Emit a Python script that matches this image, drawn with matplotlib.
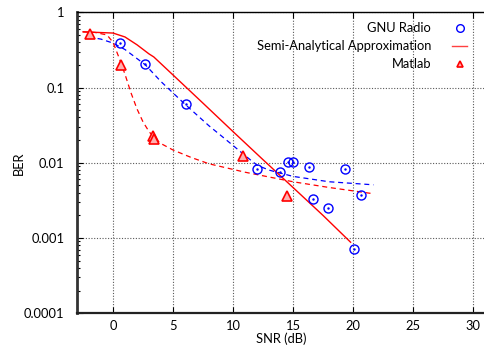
import matplotlib.pyplot as plt
import numpy as np

plt.rcParams["font.family"] = ["Lato", "DejaVu Sans"]
plt.rcParams["font.size"] = 9.3

# measured points
gnu_snr = [0.58, 2.67, 6.08, 11.97, 13.94, 14.56, 15.03, 16.36, 16.69, 17.94, 19.33, 20.08, 20.69]
gnu_ber = [0.385, 0.204, 0.060, 0.0082, 0.0075, 0.0101, 0.0102, 0.0087, 0.0033, 0.0025, 0.0083, 0.00072, 0.0037]

matlab_snr = [-1.9, 0.7, 3.3, 3.45, 10.85, 14.5]
matlab_ber = [0.51, 0.20, 0.023, 0.021, 0.0125, 0.0036]

# semi-analytical approximation curve
semi_snr = [-2.5, 0.0, 1.0, 2.0, 3.0, 3.4, 5.0, 7.5, 10.0, 12.5, 15.0, 17.5, 19.8]
semi_ber = [0.55, 0.53, 0.47, 0.37, 0.28, 0.255, 0.147, 0.062, 0.026, 0.011, 0.0047, 0.002, 0.00088]

# fitted trend lines (dashed)
gnu_fit_snr = [-2.0, -1.0, 0.0, 1.0, 2.7, 4.0, 6.0, 8.0, 9.0, 10.0, 11.0, 12.0, 13.0, 15.0, 18.0, 21.7]
gnu_fit_ber = [0.47, 0.44, 0.39, 0.32, 0.20, 0.12, 0.060, 0.031, 0.023, 0.017, 0.0125, 0.0093, 0.0080, 0.0066, 0.0056, 0.0051]

matlab_fit_snr = [-2.5, -1.5, -0.5, 0.0, 0.5, 1.0, 1.5, 2.0, 2.5, 3.0, 3.5, 4.0, 5.0, 6.5, 8.0, 11.0, 15.0, 18.0, 21.6]
matlab_fit_ber = [0.55, 0.54, 0.50, 0.40, 0.25, 0.15, 0.085, 0.052, 0.035, 0.026, 0.021, 0.018, 0.0148, 0.0118, 0.0097, 0.0075, 0.0056, 0.0047, 0.0039]

y_ticks = [1e-4, 1e-3, 1e-2, 1e-1, 1]
y_labels = ["0.0001", "0.001", "0.01", "0.1", "1"]
x_ticks = [0, 5, 10, 15, 20, 25, 30]

fig = plt.figure(figsize=(4.85, 3.47), dpi=100)
ax = fig.add_axes([77 / 485, 33.7 / 347, 408 / 485, 301 / 347])

ax.plot(gnu_fit_snr, gnu_fit_ber, color="#0000ff", ls=(0, (4, 3)), lw=0.9)
ax.plot(matlab_fit_snr, matlab_fit_ber, color="#ff0000", ls=(0, (4, 3)), lw=0.9)
ax.plot(semi_snr, semi_ber, color="#ff0000", lw=1.0)

ax.plot(gnu_snr, gnu_ber, ls="none", marker="o", ms=6.5, mfc="none", mec="#0000ff", mew=1.0)
ax.plot(gnu_snr, gnu_ber, ls="none", marker=".", ms=1.5, color="#0000ff")
ax.plot(matlab_snr, matlab_ber, ls="none", marker="^", ms=6.5, mfc="#ffb0b0", mec="#ff0000", mew=1.2)

# legend proxies
h_gnu, = ax.plot([], [], ls="none", marker="o", ms=5.5, mfc="none", mec="#0000ff", mew=1.0)
h_semi, = ax.plot([], [], color="#ff4040", lw=1.0)
h_mat, = ax.plot([], [], ls="none", marker="^", ms=5, mfc="#ffb0b0", mec="#ff0000", mew=1.2)

ax.set_yscale("log")
ax.set_xlim(-3, 31)
ax.set_ylim(1e-4, 1)
ax.set_xticks(x_ticks)
ax.set_yticks(y_ticks)
ax.set_yticklabels(y_labels)

ax.grid(True, which="major", color="0.35", ls=(0, (1, 1.5)), lw=0.8)
ax.tick_params(which="both", direction="in", top=True, right=False)
ax.tick_params(which="major", length=4, width=0.8, pad=5)
ax.tick_params(axis="y", which="minor", length=2.5, width=0.8)
ax.tick_params(axis="y", pad=9)

ax.spines["right"].set_visible(False)
ax.spines["left"].set_linewidth(2.0)
ax.spines["left"].set_color("#333333")
ax.spines["bottom"].set_linewidth(1.6)
ax.spines["bottom"].set_color("#222222")
ax.spines["top"].set_linewidth(1.0)

ax.set_xlabel("SNR (dB)", labelpad=0)
ax.set_ylabel("BER")
ax.yaxis.set_label_coords(-0.127, 0.5)

ax.legend([h_gnu, h_semi, h_mat], ["GNU Radio", "Semi-Analytical Approximation", "Matlab"],
          loc="upper right", bbox_to_anchor=(0.985, 1.005), frameon=False, markerfirst=False,
          handlelength=1.2, handletextpad=1.6, labelspacing=0.45, borderpad=0.4)

fig.savefig("out.png", dpi=100)
